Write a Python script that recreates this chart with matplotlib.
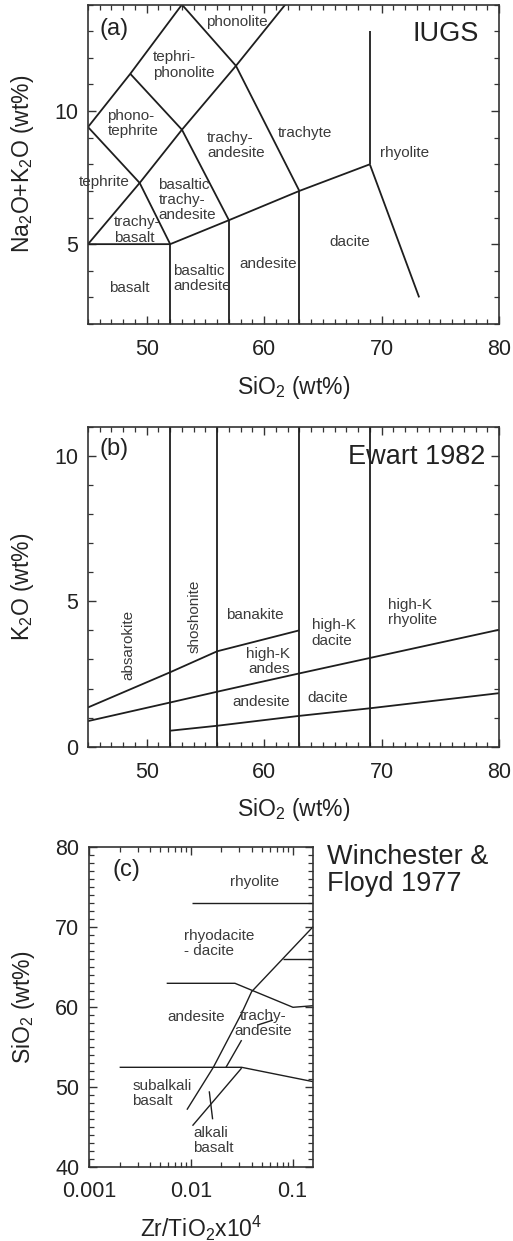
import matplotlib
matplotlib.use("Agg")
import matplotlib.pyplot as plt
from matplotlib.ticker import MultipleLocator, FixedLocator, FixedFormatter, LogLocator, NullFormatter

plt.rcParams['font.family'] = ['Liberation Sans', 'DejaVu Sans']
plt.rcParams['mathtext.fontset'] = 'custom'
plt.rcParams['mathtext.rm'] = 'Liberation Sans'
plt.rcParams['mathtext.it'] = 'Liberation Sans'

# (a) IUGS total alkali - silica field boundaries (SiO2, Na2O+K2O)
tas_lines = [
    [(45, 5), (52, 5), (57, 5.9), (63, 7), (69, 8)],
    [(52, 2), (52, 5)],
    [(57, 2), (57, 5.9)],
    [(63, 2), (63, 7)],
    [(69, 8), (69, 13)],
    [(69, 8), (73.2, 3)],
    [(45, 5), (49.4, 7.3), (53, 9.3), (57.6, 11.7), (61.8, 14)],
    [(45, 9.4), (48.6, 11.4), (53, 14)],
    [(45, 9.4), (49.4, 7.3), (52, 5)],
    [(48.6, 11.4), (53, 9.3), (57, 5.9)],
    [(53, 14), (57.6, 11.7), (63, 7)],
]
tas_labels = [
    ("phonolite", 57.66, 13.36, "center"),
    ("tephri-\nphonolite", 50.56, 11.73, "left"),
    ("phono-\ntephrite", 46.65, 9.54, "left"),
    ("tephrite", 46.36, 7.34, "center"),
    ("trachy-\nbasalt", 47.21, 5.53, "left"),
    ("basaltic\ntrachy-\nandesite", 50.99, 6.65, "left"),
    ("trachy-\nandesite", 55.16, 8.72, "left"),
    ("trachyte", 63.48, 9.16, "center"),
    ("rhyolite", 72.0, 8.41, "center"),
    ("dacite", 67.31, 5.09, "center"),
    ("andesite", 60.36, 4.27, "center"),
    ("basaltic\nandesite", 52.27, 3.71, "left"),
    ("basalt", 48.52, 3.37, "center"),
]

# (b) Ewart 1982 K2O - SiO2
ewart_lines = [
    [(52, 0), (52, 11)],
    [(56, 0), (56, 11)],
    [(63, 0), (63, 11)],
    [(69, 0), (69, 11)],
    [(45, 1.35), (52, 2.56), (56, 3.28), (63, 4.0)],
    [(45, 0.88), (52, 1.52), (56, 1.89), (63, 2.52), (69, 3.05), (80, 4.02)],
    [(52, 0.55), (56, 0.72), (63, 1.06), (69, 1.32), (80, 1.84)],
]
ewart_labels = [
    ("banakite", 59.22, 4.54, "center"),
    ("high-K\nandes", 62.2, 2.93, "right"),
    ("high-K\ndacite", 64.05, 3.91, "left"),
    ("high-K\nrhyolite", 70.57, 4.6, "left"),
    ("andesite", 59.79, 1.53, "center"),
    ("dacite", 65.41, 1.67, "center"),
]
ewart_vlabels = [
    ("absarokite", 48.4, 3.51),
    ("shoshonite", 54.11, 4.48),
]

# (c) Winchester & Floyd 1977, SiO2 vs Zr/TiO2
wf_lines = [
    [(0.0102, 73), (0.16, 73)],
    [(0.08, 66), (0.16, 66)],
    [(0.0058, 63), (0.0272, 63), (0.101, 60.0), (0.16, 60.2)],
    [(0.002, 52.5), (0.0316, 52.5), (0.16, 50.7)],
    [(0.00917, 47.2), (0.01667, 52.5), (0.0316, 59.25), (0.0396, 61.95), (0.16, 70.1)],
    [(0.0104, 45.2), (0.0316, 52.4)],
    [(0.0222, 52.5), (0.0316, 55.9)],
    [(0.0458, 57.8), (0.0643, 58.4)],
    [(0.0152, 49.5), (0.0164, 46.0)],
]
wf_labels = [
    ("rhyolite", 0.0427, 75.7, "center"),
    ("rhyodacite\n- dacite", 0.00867, 68.0, "left"),
    ("andesite", 0.0113, 58.8, "center"),
    ("trachy-\nandesite", 0.0513, 58.0, "center"),
    ("subalkali\nbasalt", 0.00265, 49.25, "left"),
    ("alkali\nbasalt", 0.0106, 43.4, "left"),
]

W, H = 513, 1241
fig = plt.figure(figsize=(W / 100, H / 100), dpi=100)

def box(l, t, r, b):
    return [l / W, 1 - b / H, (r - l) / W, (b - t) / H]

ax_a = fig.add_axes(box(88, 4.6, 499, 324))
ax_b = fig.add_axes(box(88, 426.7, 499, 746.7))
ax_c = fig.add_axes(box(89, 847.3, 313.3, 1167.3))

line_col = "#1e1e1e"
text_col = "#3a3a3a"
dark = "#222222"
lab_fs = 11
big_fs = 19.5
axlab_fs = 16.5


def style(ax, xpad, ypad):
    for s in ax.spines.values():
        s.set_linewidth(1.2)
        s.set_color("#333333")
    ax.tick_params(which="both", direction="in", top=True, right=True,
                   colors="#333333", labelcolor=dark, labelsize=15.5)
    ax.tick_params(which="major", length=6, width=1.0)
    ax.tick_params(which="minor", length=3.5, width=0.9)
    ax.tick_params(axis="x", pad=xpad)
    ax.tick_params(axis="y", pad=ypad)


def draw(ax, lines, lw):
    for ln in lines:
        xs = [p[0] for p in ln]
        ys = [p[1] for p in ln]
        ax.plot(xs, ys, color=line_col, lw=lw, solid_capstyle="butt")


# panel a
draw(ax_a, tas_lines, 1.3)
ax_a.set_xlim(45, 80)
ax_a.set_ylim(2, 14)
ax_a.xaxis.set_major_locator(FixedLocator([50, 60, 70, 80]))
ax_a.xaxis.set_minor_locator(MultipleLocator(1))
ax_a.yaxis.set_major_locator(FixedLocator([5, 10]))
ax_a.yaxis.set_minor_locator(MultipleLocator(1))
style(ax_a, 11, 7)
for t, x, y, ha in tas_labels:
    ax_a.text(x, y, t, ha=ha, va="center", fontsize=lab_fs, color=text_col, linespacing=1.1)
ax_a.text(46.0, 13.1, "(a)", ha="left", va="center", fontsize=17, color=dark)
ax_a.text(78.3, 12.9, "IUGS", ha="right", va="center", fontsize=big_fs, color=dark)
ax_a.set_xlabel("SiO$_2$ (wt%)", fontsize=axlab_fs, color=dark)
ax_a.set_ylabel("Na$_2$O+K$_2$O (wt%)", fontsize=axlab_fs, color=dark)
ax_a.xaxis.set_label_coords(0.5, -0.2)
ax_a.xaxis.label.set_va("center")
ax_a.yaxis.set_label_coords(-0.16, 0.5)
ax_a.yaxis.label.set_va("center")

# panel b
draw(ax_b, ewart_lines, 1.3)
ax_b.set_xlim(45, 80)
ax_b.set_ylim(0, 11)
ax_b.xaxis.set_major_locator(FixedLocator([50, 60, 70, 80]))
ax_b.xaxis.set_minor_locator(MultipleLocator(1))
ax_b.yaxis.set_major_locator(FixedLocator([0, 5, 10]))
ax_b.yaxis.set_minor_locator(MultipleLocator(1))
style(ax_b, 11, 7)
for t, x, y, ha in ewart_labels:
    ax_b.text(x, y, t, ha=ha, va="center", fontsize=lab_fs, color=text_col, linespacing=1.1)
for t, x, y in ewart_vlabels:
    ax_b.text(x, y, t, ha="center", va="center", rotation=90, fontsize=lab_fs, color=text_col)
ax_b.text(46.0, 10.23, "(b)", ha="left", va="center", fontsize=17, color=dark)
ax_b.text(78.8, 9.97, "Ewart 1982", ha="right", va="center", fontsize=big_fs, color=dark)
ax_b.set_xlabel("SiO$_2$ (wt%)", fontsize=axlab_fs, color=dark)
ax_b.set_ylabel("K$_2$O (wt%)", fontsize=axlab_fs, color=dark)
ax_b.xaxis.set_label_coords(0.5, -0.197)
ax_b.xaxis.label.set_va("center")
ax_b.yaxis.set_label_coords(-0.16, 0.5)
ax_b.yaxis.label.set_va("center")

# panel c
draw(ax_c, wf_lines, 1.0)
ax_c.set_xscale("log")
ax_c.set_xlim(0.001, 0.16)
ax_c.set_ylim(40, 80)
ax_c.xaxis.set_major_locator(FixedLocator([0.001, 0.01, 0.1]))
ax_c.xaxis.set_major_formatter(FixedFormatter(["0.001", "0.01", "0.1"]))
ax_c.xaxis.set_minor_locator(LogLocator(base=10, subs=range(2, 10)))
ax_c.xaxis.set_minor_formatter(NullFormatter())
ax_c.yaxis.set_major_locator(MultipleLocator(10))
ax_c.yaxis.set_minor_locator(MultipleLocator(1))
style(ax_c, 10, 7)
for t, x, y, ha in wf_labels:
    ax_c.text(x, y, t, ha=ha, va="center", fontsize=lab_fs, color=text_col, linespacing=1.1)
ax_c.text(0.0017, 77.2, "(c)", ha="left", va="center", fontsize=17, color=dark)
fig.text(327 / W, 1 - 844 / H, "Winchester &\nFloyd 1977", ha="left", va="top",
         fontsize=big_fs, color=dark, linespacing=1.05)
ax_c.set_xlabel("Zr/TiO$_2$x10$^4$", fontsize=axlab_fs, color=dark)
ax_c.set_ylabel("SiO$_2$ (wt%)", fontsize=axlab_fs, color=dark)
ax_c.xaxis.set_label_coords(0.5, -0.19)
ax_c.xaxis.label.set_va("center")
ax_c.yaxis.set_label_coords(-0.294, 0.5)
ax_c.yaxis.label.set_va("center")

fig.savefig("out.png", dpi=100)
